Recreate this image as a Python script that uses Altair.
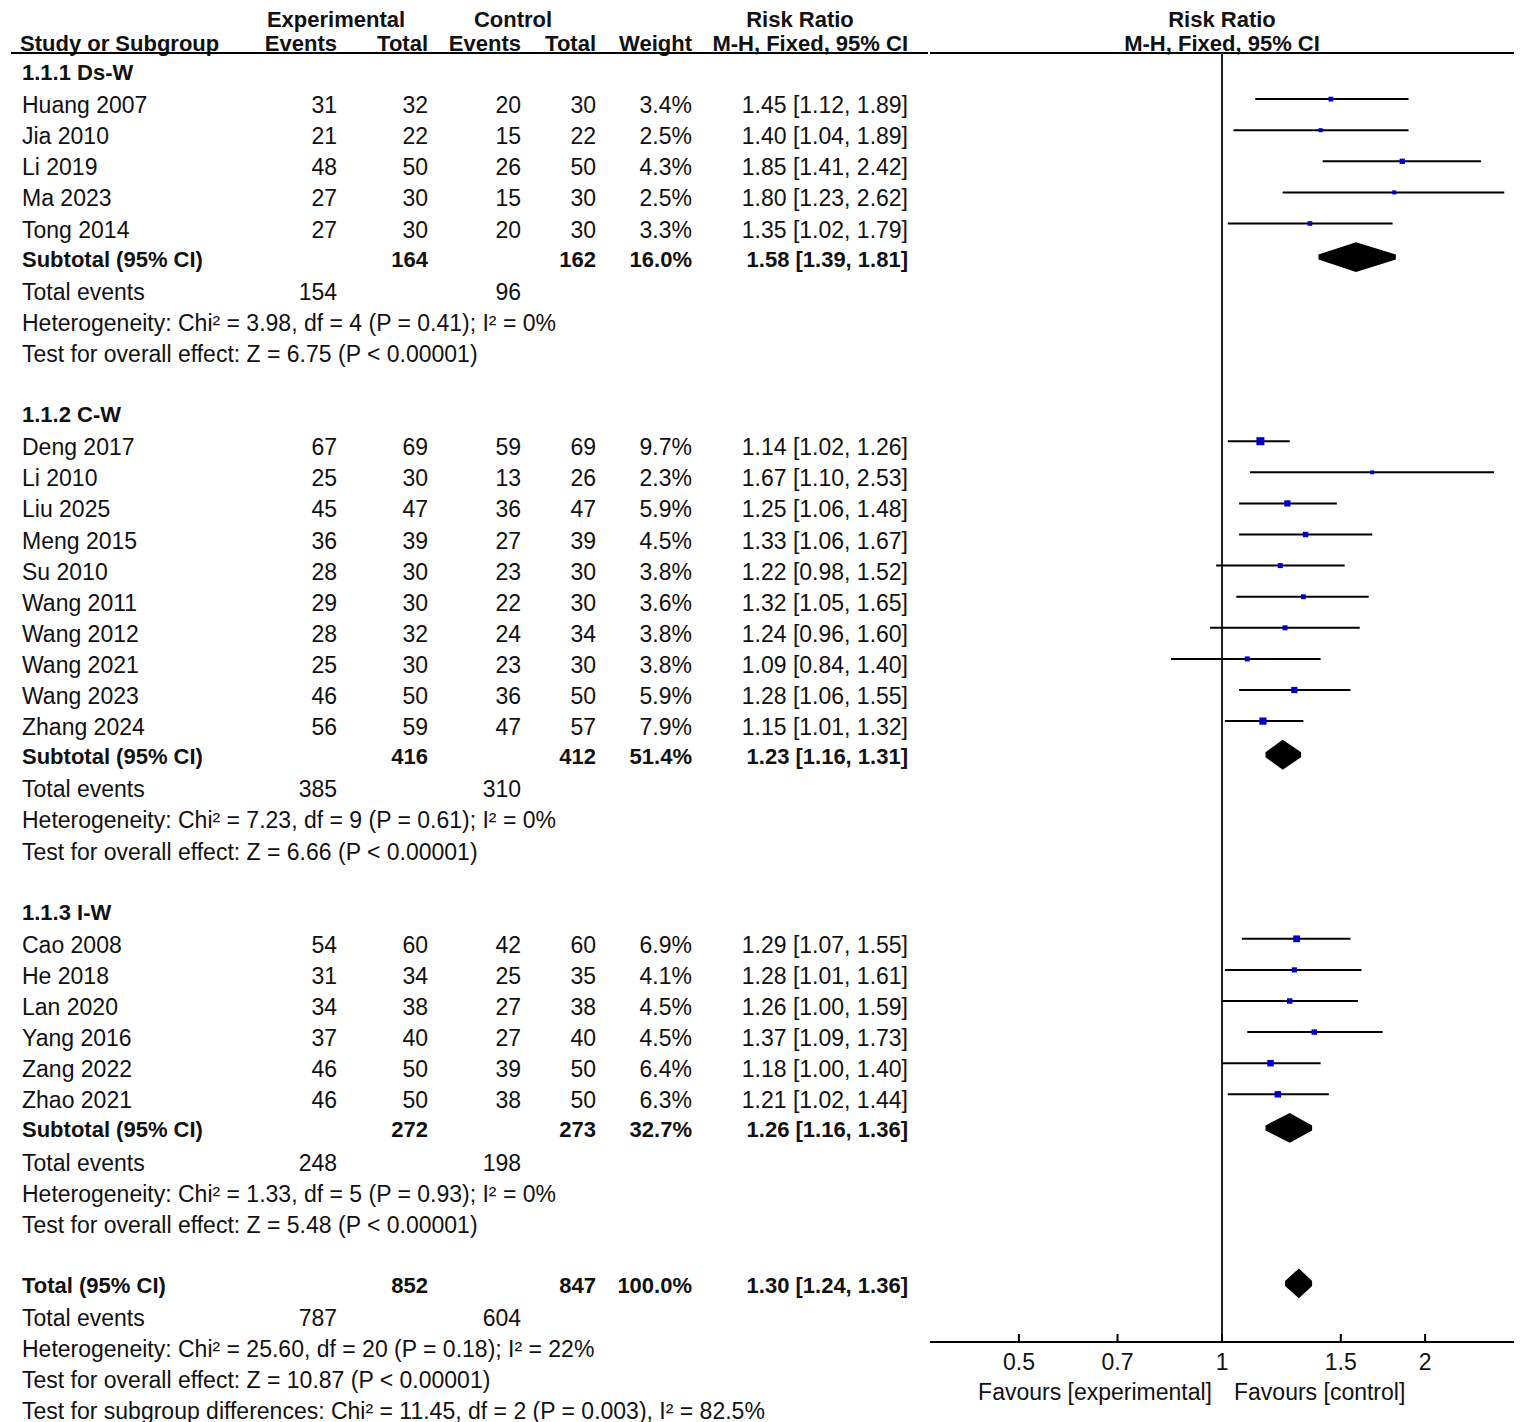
import altair as alt
import pandas as pd

FONT = "Liberation Sans"
FS = 23      # regular text size
FSB = 22     # bold text size
INK = "#111111"

# ---------------- data ----------------
group_titles = ["1.1.1 Ds-W", "1.1.2 C-W", "1.1.3 I-W"]

g_names = [
    ["Huang 2007", "Jia 2010", "Li 2019", "Ma 2023", "Tong 2014"],
    ["Deng 2017", "Li 2010", "Liu 2025", "Meng 2015", "Su 2010", "Wang 2011",
     "Wang 2012", "Wang 2021", "Wang 2023", "Zhang 2024"],
    ["Cao 2008", "He 2018", "Lan 2020", "Yang 2016", "Zang 2022", "Zhao 2021"],
]
g_exp_events = [[31, 21, 48, 27, 27],
                [67, 25, 45, 36, 28, 29, 28, 25, 46, 56],
                [54, 31, 34, 37, 46, 46]]
g_exp_total = [[32, 22, 50, 30, 30],
               [69, 30, 47, 39, 30, 30, 32, 30, 50, 59],
               [60, 34, 38, 40, 50, 50]]
g_ctl_events = [[20, 15, 26, 15, 20],
                [59, 13, 36, 27, 23, 22, 24, 23, 36, 47],
                [42, 25, 27, 27, 39, 38]]
g_ctl_total = [[30, 22, 50, 30, 30],
               [69, 26, 47, 39, 30, 30, 34, 30, 50, 57],
               [60, 35, 38, 40, 50, 50]]
g_weight = [[3.4, 2.5, 4.3, 2.5, 3.3],
            [9.7, 2.3, 5.9, 4.5, 3.8, 3.6, 3.8, 3.8, 5.9, 7.9],
            [6.9, 4.1, 4.5, 4.5, 6.4, 6.3]]
g_rr = [[1.45, 1.40, 1.85, 1.80, 1.35],
        [1.14, 1.67, 1.25, 1.33, 1.22, 1.32, 1.24, 1.09, 1.28, 1.15],
        [1.29, 1.28, 1.26, 1.37, 1.18, 1.21]]
g_lo = [[1.12, 1.04, 1.41, 1.23, 1.02],
        [1.02, 1.10, 1.06, 1.06, 0.98, 1.05, 0.96, 0.84, 1.06, 1.01],
        [1.07, 1.01, 1.00, 1.09, 1.00, 1.02]]
g_hi = [[1.89, 1.89, 2.42, 2.62, 1.79],
        [1.26, 2.53, 1.48, 1.67, 1.52, 1.65, 1.60, 1.40, 1.55, 1.32],
        [1.55, 1.61, 1.59, 1.73, 1.40, 1.44]]

sub_exp_total = [164, 416, 272]
sub_ctl_total = [162, 412, 273]
sub_weight = ["16.0%", "51.4%", "32.7%"]
sub_rr = [1.58, 1.23, 1.26]
sub_lo = [1.39, 1.16, 1.16]
sub_hi = [1.81, 1.31, 1.36]
sub_exp_events = [154, 385, 248]
sub_ctl_events = [96, 310, 198]
sub_het = ["Heterogeneity: Chi\u00b2 = 3.98, df = 4 (P = 0.41); I\u00b2 = 0%",
           "Heterogeneity: Chi\u00b2 = 7.23, df = 9 (P = 0.61); I\u00b2 = 0%",
           "Heterogeneity: Chi\u00b2 = 1.33, df = 5 (P = 0.93); I\u00b2 = 0%"]
sub_test = ["Test for overall effect: Z = 6.75 (P < 0.00001)",
            "Test for overall effect: Z = 6.66 (P < 0.00001)",
            "Test for overall effect: Z = 5.48 (P < 0.00001)"]

tot_exp_total, tot_ctl_total, tot_weight = 852, 847, "100.0%"
tot_rr, tot_lo, tot_hi = 1.30, 1.24, 1.36
tot_exp_events, tot_ctl_events = 787, 604
tot_het = "Heterogeneity: Chi\u00b2 = 25.60, df = 20 (P = 0.18); I\u00b2 = 22%"
tot_test = "Test for overall effect: Z = 10.87 (P < 0.00001)"
tot_sub = "Test for subgroup differences: Chi\u00b2 = 11.45, df = 2 (P = 0.003), I\u00b2 = 82.5%"

axis_ticks = [0.5, 0.7, 1, 1.5, 2]
axis_tick_labels = ["0.5", "0.7", "1", "1.5", "2"]

# ---------------- build tables ----------------
def ci_txt(r, l, h):
    return f"{r:.2f} [{l:.2f}, {h:.2f}]"

rows, studies, diamonds = [], [], []
r = 0
for gi in range(3):
    rows.append(dict(row=r, name=group_titles[gi], bold=True)); r += 1
    for j, nm in enumerate(g_names[gi]):
        rows.append(dict(row=r, name=nm, ee=str(g_exp_events[gi][j]), et=str(g_exp_total[gi][j]),
                         ce=str(g_ctl_events[gi][j]), ct=str(g_ctl_total[gi][j]),
                         w=f"{g_weight[gi][j]:.1f}%",
                         ci=ci_txt(g_rr[gi][j], g_lo[gi][j], g_hi[gi][j]), bold=False))
        studies.append(dict(row=r, rr=g_rr[gi][j], lo=g_lo[gi][j], hi=g_hi[gi][j], w=g_weight[gi][j]))
        r += 1
    rows.append(dict(row=r, name="Subtotal (95% CI)", et=str(sub_exp_total[gi]),
                     ct=str(sub_ctl_total[gi]), w=sub_weight[gi],
                     ci=ci_txt(sub_rr[gi], sub_lo[gi], sub_hi[gi]), bold=True))
    diamonds.append(dict(g=gi, row=r, rr=sub_rr[gi], lo=sub_lo[gi], hi=sub_hi[gi]))
    r += 1
    rows.append(dict(row=r, name="Total events", ee=str(sub_exp_events[gi]),
                     ce=str(sub_ctl_events[gi]), bold=False)); r += 1
    rows.append(dict(row=r, name=sub_het[gi], bold=False)); r += 1
    rows.append(dict(row=r, name=sub_test[gi], bold=False)); r += 1
    r += 1

rows.append(dict(row=r, name="Total (95% CI)", et=str(tot_exp_total), ct=str(tot_ctl_total),
                 w=tot_weight, ci=ci_txt(tot_rr, tot_lo, tot_hi), bold=True))
diamonds.append(dict(g=3, row=r, rr=tot_rr, lo=tot_lo, hi=tot_hi))
r += 1
rows.append(dict(row=r, name="Total events", ee=str(tot_exp_events), ce=str(tot_ctl_events), bold=False)); r += 1
rows.append(dict(row=r, name=tot_het, bold=False)); r += 1
rows.append(dict(row=r, name=tot_test, bold=False)); r += 1
rows.append(dict(row=r, name=tot_sub, bold=False)); r += 1

tbl = pd.DataFrame(rows)
for c in ["name", "ee", "et", "ce", "ct", "w", "ci"]:
    tbl[c] = tbl[c].fillna("")
tbl["bold"] = tbl["bold"].astype(bool)
st = pd.DataFrame(studies)

HALF = 0.40  # diamond half-height in rows
dpts = []
for d in diamonds:
    for xv, hh in [(d["lo"], 0.0), (d["rr"], HALF), (d["hi"], 0.0)]:
        dpts.append(dict(g=d["g"], x=xv, ytop=d["row"] - hh, ybot=d["row"] + hh))
dia = pd.DataFrame(dpts)

# ---------------- scales ----------------
H = 1400
ROW_PX = 31.1
D0 = (8 - 73) / ROW_PX
D1 = D0 + H / ROW_PX
ys = alt.Scale(domain=[D0, D1], reverse=True, nice=False, zero=False)

W_TAB = 920
W_FOR = 584
XMIN, XMAX = 0.3691, 2.709
xs = alt.Scale(type="log", domain=[XMIN, XMAX], nice=False, zero=False)

HDR1 = (20 - 73) / ROW_PX
HDR2 = (44 - 73) / ROW_PX
ULINE = (53 - 73) / ROW_PX
AXIS_Y = (1342 - 73) / ROW_PX
TICK_TOP = (1334 - 73) / ROW_PX
TICKLAB_Y = (1363 - 73) / ROW_PX
FAV_Y = (1393 - 73) / ROW_PX

# ---------------- table panel ----------------
def col_layer(field, x, align, bold):
    cond = f"datum.{field} != '' && {'datum.bold' if bold else '!datum.bold'}"
    return alt.Chart(tbl).transform_filter(cond).mark_text(
        align=align, baseline="middle", font=FONT, dy=0 if bold else 2,
        fontSize=FSB if bold else FS, fontWeight="bold" if bold else "normal", color=INK
    ).encode(x=alt.value(x), y=alt.Y("row:Q", scale=ys, axis=None), text=f"{field}:N")

def hdr(label, row, x, align):
    return alt.Chart(pd.DataFrame({"row": [row], "t": [label]})).mark_text(
        align=align, baseline="middle", font=FONT, fontSize=FSB, fontWeight="bold", color=INK
    ).encode(x=alt.value(x), y=alt.Y("row:Q", scale=ys, axis=None), text="t:N")

cols = [("name", 14, "left"), ("ee", 329, "right"), ("et", 420, "right"),
        ("ce", 513, "right"), ("ct", 588, "right"), ("w", 684, "right"), ("ci", 900, "right")]
tab_layers = []
for f, x, a in cols:
    tab_layers.append(col_layer(f, x, a, False))
    tab_layers.append(col_layer(f, x, a, True))

tab_layers += [
    hdr("Experimental", HDR1, 328, "center"),
    hdr("Control", HDR1, 505, "center"),
    hdr("Risk Ratio", HDR1, 792, "center"),
    hdr("Study or Subgroup", HDR2, 12, "left"),
    hdr("Events", HDR2, 329, "right"),
    hdr("Total", HDR2, 420, "right"),
    hdr("Events", HDR2, 513, "right"),
    hdr("Total", HDR2, 588, "right"),
    hdr("Weight", HDR2, 684, "right"),
    hdr("M-H, Fixed, 95% CI", HDR2, 900, "right"),
]
tab_under = alt.Chart(pd.DataFrame({"row": [ULINE]})).mark_rule(color="#000", strokeWidth=2).encode(
    x=alt.value(3), x2=alt.value(W_TAB), y=alt.Y("row:Q", scale=ys, axis=None))
tab_layers.append(tab_under)

table = alt.layer(*tab_layers).properties(width=W_TAB, height=H)

# ---------------- forest panel ----------------
X = lambda f: alt.X(f, scale=xs, axis=None)
Y = lambda f: alt.Y(f, scale=ys, axis=None)

frame = pd.DataFrame({"xa": [XMIN], "xb": [XMAX], "one": [1.0],
                      "yu": [ULINE], "ya": [AXIS_Y]})
under = alt.Chart(frame).mark_rule(color="#000", strokeWidth=2).encode(x=X("xa:Q"), x2="xb:Q", y=Y("yu:Q"))
axis_line = alt.Chart(frame).mark_rule(color="#000", strokeWidth=2).encode(x=X("xa:Q"), x2="xb:Q", y=Y("ya:Q"))
vline = alt.Chart(frame).mark_rule(color="#222", strokeWidth=2).encode(x=X("one:Q"), y=Y("yu:Q"), y2="ya:Q")

tk = pd.DataFrame({"x": axis_ticks, "lab": axis_tick_labels, "y1": TICK_TOP, "y2": AXIS_Y, "yl": TICKLAB_Y})
ticks = alt.Chart(tk).mark_rule(color="#000", strokeWidth=2).encode(x=X("x:Q"), y=Y("y1:Q"), y2="y2:Q")
ticklabs = alt.Chart(tk).mark_text(font=FONT, fontSize=FS, color=INK, baseline="middle", align="center").encode(
    x=X("x:Q"), y=Y("yl:Q"), text="lab:N")

fav = pd.DataFrame({"x": [1.0], "y": [FAV_Y], "l": ["Favours [experimental]"], "r": ["Favours [control]"]})
fav_l = alt.Chart(fav).mark_text(font=FONT, fontSize=FS, color=INK, baseline="middle", align="right", dx=-10).encode(
    x=X("x:Q"), y=Y("y:Q"), text="l:N")
fav_r = alt.Chart(fav).mark_text(font=FONT, fontSize=FS, color=INK, baseline="middle", align="left", dx=12).encode(
    x=X("x:Q"), y=Y("y:Q"), text="r:N")

fh = pd.DataFrame({"x": [1.0, 1.0], "y": [HDR1, HDR2], "t": ["Risk Ratio", "M-H, Fixed, 95% CI"]})
fhdr = alt.Chart(fh).mark_text(font=FONT, fontSize=FSB, fontWeight="bold", color=INK,
                               baseline="middle", align="center").encode(x=X("x:Q"), y=Y("y:Q"), text="t:N")

OFF = -5
ci_lines = alt.Chart(st).mark_rule(color="#000", strokeWidth=2, yOffset=OFF).encode(
    x=X("lo:Q"), x2="hi:Q", y=Y("row:Q"))
squares = alt.Chart(st).mark_square(color="#0000CC", filled=True, opacity=1, yOffset=OFF).encode(
    x=X("rr:Q"), y=Y("row:Q"),
    size=alt.Size("w:Q", scale=alt.Scale(domain=[0, 10], range=[0, 66]), legend=None))
diamond = alt.Chart(dia).mark_area(color="#000", opacity=1, orient="vertical", yOffset=OFF).encode(
    x=X("x:Q"), y=Y("ytop:Q"), y2="ybot:Q", detail="g:N")

forest = alt.layer(under, vline, axis_line, ticks, ticklabs, fav_l, fav_r, fhdr,
                   ci_lines, squares, diamond).properties(width=W_FOR, height=H)

chart = alt.hconcat(table, forest, spacing=0).resolve_scale(x="independent", y="independent").properties(
    padding={"left": 0, "top": 0, "right": 0, "bottom": 0}
).configure_view(stroke=None).configure_concat(spacing=0)

chart.save("out.html", embed_options={"renderer": "svg", "actions": False})
